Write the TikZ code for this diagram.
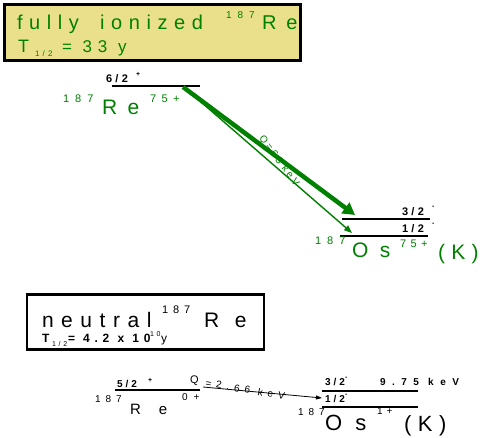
\documentclass[tikz,border=0pt]{standalone}
\usepackage{fontspec}
\setmainfont{Liberation Sans}
\usetikzlibrary{arrows.meta}
\definecolor{grn}{RGB}{0,128,0}
\definecolor{khaki}{RGB}{234,224,140}
\newcommand\Ls[3]{{\fontsize{#1}{#1}\selectfont\addfontfeatures{LetterSpace=#2}#3}}
\newcommand\Lb[3]{{\fontsize{#1}{#1}\selectfont\bfseries\addfontfeatures{LetterSpace=#2}#3}}
\begin{document}
\begin{tikzpicture}[x=1pt,y=-1pt,
  every node/.style={inner sep=0pt,outer sep=0pt,anchor=base west},
  lvl/.style={line width=1.6pt},
  gt/.style={text=grn},
  boxA/.style={draw,fill=khaki,line width=3pt,anchor=north west},
  boxB/.style={draw,fill=white,line width=2.5pt,anchor=north west},
  bigarrow/.style={draw=grn,line width=4.5pt,-{Triangle[length=12pt,width=13pt]}},
  thinarrow/.style={draw=grn,line width=1.4pt,-{Triangle[length=8pt,width=6pt]}},
  blkarrow/.style={draw=black,line width=0.8pt,-{Triangle[length=6pt,width=4pt]}}]
\useasboundingbox (0,0) rectangle (482,438);
% top box
\node (topbox) [boxA,minimum width=296pt,minimum height=56pt] at (4.5,4.5) {};
\node (t1) [gt] at (17,30) {\Ls{20}{33}{fully\hspace{9pt} ionized}};
\node (t2) [gt] at (226,19) {\Ls{10}{60}{187}};
\node (t3) [gt] at (262,30) {\Ls{20}{50}{Re}};
\node (t4) [gt] at (18,53) {\Ls{18}{0}{T}};
\node (t5) [gt] at (35,57) {\Ls{8}{40}{1/2}};
\node (t6) [gt] at (62,53) {\Ls{17}{35}{= 33 y}};
% Re level top
\coordinate (reL) at (112,86);
\coordinate (reR) at (200,86);
\draw[lvl] (reL) -- (reR);
\node (j1) at (106,83) {\Lb{11}{30}{6/2}};
\node (j1s) at (136,77) {\Lb{7}{0}{+}};
\node (re1) [gt] at (63,103) {\Ls{11}{55}{187}};
\node (re2) [gt] at (102,115) {\Ls{21}{50}{Re}};
\node (re3) [gt] at (150,103) {\Ls{11}{50}{75+}};
% Os levels top
\coordinate (o3L) at (342,219);
\coordinate (o3R) at (430,219);
\coordinate (o1L) at (340,236);
\coordinate (o1R) at (428,236);
\draw[lvl] (o3L) -- (o3R);
\draw[lvl] (o1L) -- (o1R);
\node (j3) at (402,216) {\Lb{11}{30}{3/2}};
\node (j3s) at (432,209) {\Lb{7}{0}{-}};
\node (j4) at (402,233) {\Lb{11}{30}{1/2}};
\node (j4s) at (432,226) {\Lb{7}{0}{-}};
\node (os1) [gt] at (315,245) {\Ls{11}{55}{187}};
\node (os2) [gt] at (352,258) {\Ls{21}{55}{Os}};
\node (os3) [gt] at (400,248) {\Ls{11}{40}{75+}};
\node (os4) [gt] at (438,260) {\Ls{21}{30}{(K)}};
% arrows top
\coordinate (a1s) at (183,87);
\coordinate (a1e) at (355,215);
\coordinate (a2s) at (186,89);
\coordinate (a2e) at (352,233);
\draw[bigarrow] (a1s) -- (a1e);
\draw[thinarrow] (a2s) -- (a2e);
\node (q1) [gt,anchor=center,rotate=-53] at (279,161) {\Ls{10}{25}{Q=63 keV}};
% bottom box
\node (botbox) [boxB,minimum width=237pt,minimum height=55pt] at (27,294.5) {};
\node (b1) at (42,327) {\Ls{21}{36}{neutral}};
\node (b2) at (162,314) {\Ls{11}{45}{187}};
\node (b3) at (204,327) {\Ls{21}{75}{Re}};
\node (b4) at (42,342) {\Lb{12}{0}{T}};
\node (b5) at (52,346) {\Ls{7}{40}{1/2}};
\node (b6) at (68,342) {\Lb{12}{40}{= 4.2 x 10}};
\node (b7) at (150,337) {\Ls{7}{40}{10}};
\node (b8) at (161,342) {\Ls{12}{0}{y}};
% bottom Re level
\coordinate (brL) at (115,390);
\coordinate (brR) at (200,390);
\draw[lvl] (brL) -- (brR);
\node (k1) at (117,387) {\Lb{10}{30}{5/2}};
\node (k1s) at (148,382) {\Lb{7}{0}{+}};
\node (br1) at (95,402) {\Ls{10}{50}{187}};
\node (br2) at (130,414) {\Ls{15}{120}{Re}};
\node (br3) at (182,400) {\Ls{10}{60}{0+}};
% bottom Os levels
\coordinate (bo3L) at (322,391);
\coordinate (bo3R) at (418,391);
\coordinate (bo1L) at (322,407);
\coordinate (bo1R) at (418,407);
\draw[lvl] (bo3L) -- (bo3R);
\draw[lvl] (bo1L) -- (bo1R);
\node (k3) at (325,385) {\Lb{10}{30}{3/2}};
\node (k3s) at (345,379) {\Lb{7}{0}{-}};
\node (k5) at (380,385) {\Lb{10}{65}{9.75 keV}};
\node (k4) at (325,402) {\Lb{10}{30}{1/2}};
\node (k4s) at (345,396) {\Lb{7}{0}{-}};
\node (bo1) at (298,415) {\Ls{10}{50}{187}};
\node (bo2) at (325,430) {\Ls{22}{60}{Os}};
\node (bo3) at (377,414) {\Ls{10}{40}{1+}};
\node (bo4) at (404,431) {\Ls{22}{30}{(K)}};
% bottom arrow
\coordinate (ba1) at (203,387);
\coordinate (ba2) at (322,398);
\draw[blkarrow] (ba1) -- (ba2);
\node (q2a) at (190,383) {\Ls{11}{0}{Q}};
\node (q2b) [rotate=-10] at (205,386) {\Ls{10}{50}{=2.66 keV}};
\end{tikzpicture}
\end{document}
